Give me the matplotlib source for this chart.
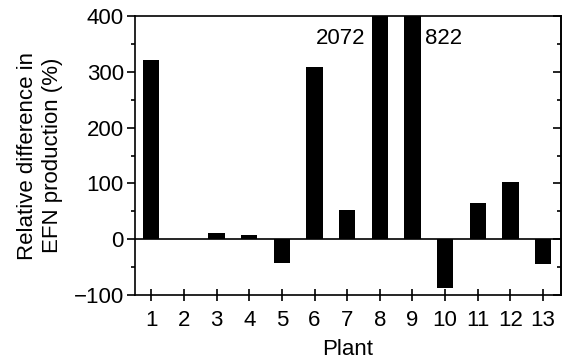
import numpy as np
import matplotlib
matplotlib.use("Agg")
import matplotlib.pyplot as plt
from matplotlib.ticker import MultipleLocator

plt.rcParams['font.family'] = ['Liberation Sans', 'DejaVu Sans']

# values (relative difference, %)
plants = [1, 2, 3, 4, 5, 6, 7, 8, 9, 10, 11, 12, 13]
diff = [321, 1, 12, 8, -42, 308, 52, 2072, 822, -87, 64, 102, -44]
off_scale = {8: "2072", 9: "822"}

fig = plt.figure(figsize=(5.68, 3.62), dpi=100)
ax = fig.add_axes([135/568, 1 - 295/362, (561-135)/568, (295-16)/362])

ax.bar(plants, diff, width=0.5, color='black')
ax.axhline(0, color='black', lw=1.2)

ax.set_xlim(0.5, 13.55)
ax.set_ylim(-100, 400)
ax.set_xticks(plants)
ax.yaxis.set_major_locator(MultipleLocator(100))
ax.yaxis.set_minor_locator(MultipleLocator(50))

ax.tick_params(axis='x', direction='inout', length=9, width=1.2, labelsize=16, pad=6)
ax.tick_params(axis='y', which='major', direction='out', length=6, width=1.2, labelsize=16, pad=2)
ax.tick_params(axis='y', which='minor', direction='out', length=3, width=1.2)

# right side: ticks pointing inward, no labels
sec = ax.secondary_yaxis('right')
sec.yaxis.set_major_locator(MultipleLocator(100))
sec.yaxis.set_minor_locator(MultipleLocator(50))
sec.tick_params(which='major', direction='in', length=6, width=1.2, labelright=False)
sec.tick_params(which='minor', direction='in', length=3, width=1.2)

for s in ax.spines.values():
    s.set_linewidth(1.2)
sec.spines['right'].set_linewidth(1.2)

# labels for bars that run off the top
ax.text(7.55, 360, off_scale[8], ha='right', va='center', fontsize=16)
ax.text(9.38, 360, off_scale[9], ha='left', va='center', fontsize=16)

ax.set_xlabel('Plant', fontsize=16, labelpad=6)
ax.set_ylabel('Relative difference in\nEFN production (%)', fontsize=16, labelpad=8)

fig.savefig('out.png', dpi=100)
